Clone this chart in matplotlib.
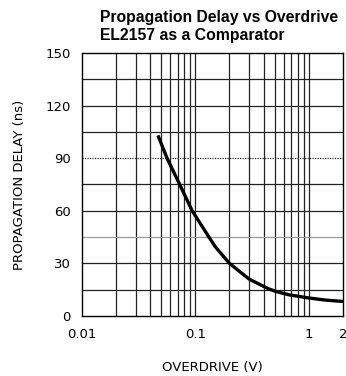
import numpy as np
import matplotlib
matplotlib.use("Agg")
import matplotlib.pyplot as plt

# curve
overdrive = [0.047, 0.0565, 0.073, 0.094, 0.132, 0.15, 0.2, 0.298, 0.44, 0.51, 0.67, 1.0, 1.4, 2.0]
delay = [103, 90, 75, 60, 45, 39.5, 30, 21, 15.5, 14.0, 12.0, 10.2, 9.0, 8.2]

x_ticks = [0.01, 0.1, 1, 2]
x_tick_labels = ["0.01", "0.1", "1", "2"]
y_ticks = [0, 30, 60, 90, 120, 150]

fig = plt.figure(figsize=(3.46, 3.76), dpi=100)
ax = fig.add_axes([0.236, 0.16, 0.755, 0.699])

ax.set_xscale("log")
ax.set_xlim(0.01, 2)
ax.set_ylim(0, 150)

# grid: every 1-9 per decade, every 15 ns
for d in [0.01, 0.1, 1]:
    for m in range(1, 10):
        v = d * m
        if 0.01 < v < 2:
            ax.axvline(v, color="#222222", lw=0.9, zorder=1)
for h in np.arange(15, 150, 15):
    if h == 45:
        ax.axhline(h, color="#999999", lw=0.9, zorder=1)
    elif h == 90:
        ax.axhline(h, color="#222222", lw=0.9, ls=(0, (1, 1)), zorder=1)
    else:
        ax.axhline(h, color="#222222", lw=0.9, zorder=1)

ax.plot(overdrive, delay, color="black", lw=2.4, zorder=3,
        solid_capstyle="butt", solid_joinstyle="round")

ax.set_xticks(x_ticks)
ax.set_xticklabels(x_tick_labels)
ax.xaxis.set_minor_locator(matplotlib.ticker.NullLocator())
ax.set_yticks(y_ticks)
ax.tick_params(length=0, labelsize=9.5, pad=8)
ax.tick_params(axis="x", pad=9)
for s in ax.spines.values():
    s.set_linewidth(1.0)

ax.set_xlabel("OVERDRIVE (V)", fontsize=9.5, labelpad=14)
ax.set_ylabel("PROPAGATION DELAY (ns)", fontsize=9.5, labelpad=14)

fig.text(0.289, 0.953, "Propagation Delay vs Overdrive", fontsize=11.3,
         fontweight="bold", family="Liberation Sans", ha="left", va="center")
fig.text(0.289, 0.905, "EL2157 as a Comparator", fontsize=11.3,
         fontweight="bold", family="Liberation Sans", ha="left", va="center")

fig.savefig("out.png", dpi=100)
